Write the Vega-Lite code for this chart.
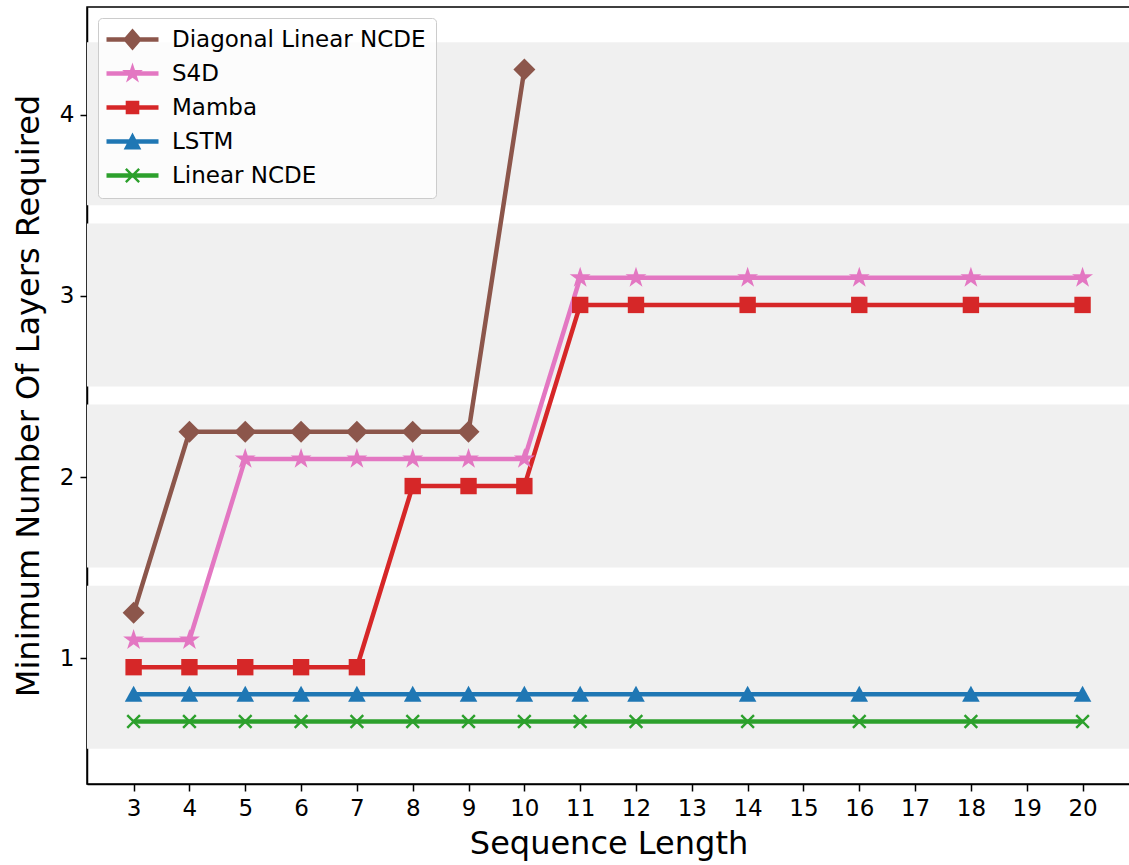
{
  "$schema": "https://vega.github.io/schema/vega-lite/v6.json",
  "width": 1043,
  "height": 777,
  "autosize": {"type": "none"},
  "padding": {"left": 87, "top": 7, "right": 0, "bottom": 81},
  "background": "white",
  "config": {
    "font": "DejaVu Sans",
    "view": {"stroke": "black", "strokeWidth": 1.5},
    "axis": {
      "grid": false,
      "domainColor": "black",
      "domainWidth": 1.5,
      "tickColor": "black",
      "tickWidth": 1.5,
      "tickSize": 7,
      "labelFont": "DejaVu Sans",
      "labelFontSize": 23,
      "labelColor": "black",
      "titleFont": "DejaVu Sans",
      "titleFontSize": 32,
      "titleFontWeight": "normal",
      "titleColor": "black",
      "zindex": 1
    },
    "point": {"filled": true, "opacity": 1, "size": 400, "strokeWidth": 0}
  },
  "datasets": {
    "bands": [
      {"lo": 0.5, "hi": 1.4},
      {"lo": 1.5, "hi": 2.4},
      {"lo": 2.5, "hi": 3.4},
      {"lo": 3.5, "hi": 4.4}
    ],
    "layers": [
      {"model": "Diagonal Linear NCDE", "len": 3, "layers": 1.25},
      {"model": "Diagonal Linear NCDE", "len": 4, "layers": 2.25},
      {"model": "Diagonal Linear NCDE", "len": 5, "layers": 2.25},
      {"model": "Diagonal Linear NCDE", "len": 6, "layers": 2.25},
      {"model": "Diagonal Linear NCDE", "len": 7, "layers": 2.25},
      {"model": "Diagonal Linear NCDE", "len": 8, "layers": 2.25},
      {"model": "Diagonal Linear NCDE", "len": 9, "layers": 2.25},
      {"model": "Diagonal Linear NCDE", "len": 10, "layers": 4.25},

      {"model": "S4D", "len": 3, "layers": 1.1},
      {"model": "S4D", "len": 4, "layers": 1.1},
      {"model": "S4D", "len": 5, "layers": 2.1},
      {"model": "S4D", "len": 6, "layers": 2.1},
      {"model": "S4D", "len": 7, "layers": 2.1},
      {"model": "S4D", "len": 8, "layers": 2.1},
      {"model": "S4D", "len": 9, "layers": 2.1},
      {"model": "S4D", "len": 10, "layers": 2.1},
      {"model": "S4D", "len": 11, "layers": 3.1},
      {"model": "S4D", "len": 12, "layers": 3.1},
      {"model": "S4D", "len": 14, "layers": 3.1},
      {"model": "S4D", "len": 16, "layers": 3.1},
      {"model": "S4D", "len": 18, "layers": 3.1},
      {"model": "S4D", "len": 20, "layers": 3.1},

      {"model": "Mamba", "len": 3, "layers": 0.95},
      {"model": "Mamba", "len": 4, "layers": 0.95},
      {"model": "Mamba", "len": 5, "layers": 0.95},
      {"model": "Mamba", "len": 6, "layers": 0.95},
      {"model": "Mamba", "len": 7, "layers": 0.95},
      {"model": "Mamba", "len": 8, "layers": 1.95},
      {"model": "Mamba", "len": 9, "layers": 1.95},
      {"model": "Mamba", "len": 10, "layers": 1.95},
      {"model": "Mamba", "len": 11, "layers": 2.95},
      {"model": "Mamba", "len": 12, "layers": 2.95},
      {"model": "Mamba", "len": 14, "layers": 2.95},
      {"model": "Mamba", "len": 16, "layers": 2.95},
      {"model": "Mamba", "len": 18, "layers": 2.95},
      {"model": "Mamba", "len": 20, "layers": 2.95},

      {"model": "LSTM", "len": 3, "layers": 0.8},
      {"model": "LSTM", "len": 4, "layers": 0.8},
      {"model": "LSTM", "len": 5, "layers": 0.8},
      {"model": "LSTM", "len": 6, "layers": 0.8},
      {"model": "LSTM", "len": 7, "layers": 0.8},
      {"model": "LSTM", "len": 8, "layers": 0.8},
      {"model": "LSTM", "len": 9, "layers": 0.8},
      {"model": "LSTM", "len": 10, "layers": 0.8},
      {"model": "LSTM", "len": 11, "layers": 0.8},
      {"model": "LSTM", "len": 12, "layers": 0.8},
      {"model": "LSTM", "len": 14, "layers": 0.8},
      {"model": "LSTM", "len": 16, "layers": 0.8},
      {"model": "LSTM", "len": 18, "layers": 0.8},
      {"model": "LSTM", "len": 20, "layers": 0.8},

      {"model": "Linear NCDE", "len": 3, "layers": 0.65},
      {"model": "Linear NCDE", "len": 4, "layers": 0.65},
      {"model": "Linear NCDE", "len": 5, "layers": 0.65},
      {"model": "Linear NCDE", "len": 6, "layers": 0.65},
      {"model": "Linear NCDE", "len": 7, "layers": 0.65},
      {"model": "Linear NCDE", "len": 8, "layers": 0.65},
      {"model": "Linear NCDE", "len": 9, "layers": 0.65},
      {"model": "Linear NCDE", "len": 10, "layers": 0.65},
      {"model": "Linear NCDE", "len": 11, "layers": 0.65},
      {"model": "Linear NCDE", "len": 12, "layers": 0.65},
      {"model": "Linear NCDE", "len": 14, "layers": 0.65},
      {"model": "Linear NCDE", "len": 16, "layers": 0.65},
      {"model": "Linear NCDE", "len": 18, "layers": 0.65},
      {"model": "Linear NCDE", "len": 20, "layers": 0.65}
    ]
  },
  "layer": [
    {
      "data": {"name": "bands"},
      "mark": {"type": "rect", "color": "#f0f0f0"},
      "encoding": {
        "y": {
          "field": "lo",
          "type": "quantitative",
          "title": "Minimum Number Of Layers Required",
          "scale": {"domain": [0.305, 4.595], "nice": false, "zero": false},
          "axis": {"values": [1, 2, 3, 4], "format": "d", "labelPadding": 6, "titlePadding": 14}
        },
        "y2": {"field": "hi"}
      }
    },
    {
      "data": {"name": "layers"},
      "encoding": {
        "x": {
          "field": "len",
          "type": "quantitative",
          "title": "Sequence Length",
          "scale": {"domain": [2.165, 20.85], "nice": false, "zero": false},
          "axis": {
            "values": [3, 4, 5, 6, 7, 8, 9, 10, 11, 12, 13, 14, 15, 16, 17, 18, 19, 20],
            "format": "d",
            "labelPadding": 6,
            "titlePadding": 8
          }
        },
        "y": {
          "field": "layers",
          "type": "quantitative",
          "title": "Minimum Number Of Layers Required",
          "scale": {"domain": [0.305, 4.595], "nice": false, "zero": false},
          "axis": {"values": [1, 2, 3, 4], "format": "d", "labelPadding": 6, "titlePadding": 14}
        },
        "color": {
          "field": "model",
          "type": "nominal",
          "scale": {
            "domain": ["Diagonal Linear NCDE", "S4D", "Mamba", "LSTM", "Linear NCDE"],
            "range": ["#8c564b", "#e377c2", "#d62728", "#1f77b4", "#2ca02c"]
          },
          "legend": {
            "title": null,
            "orient": "top-left",
            "offset": 11,
            "padding": 10,
            "rowPadding": 10,
            "symbolOffset": 13,
            "labelOffset": 28,
            "labelLimit": 400,
            "symbolSize": 400,
            "symbolStrokeWidth": 0,
            "symbolOpacity": 1,
            "labelFont": "DejaVu Sans",
            "labelFontSize": 23,
            "labelColor": "black",
            "fillColor": "rgba(255,255,255,0.8)",
            "strokeColor": "#cccccc",
            "cornerRadius": 4,
            "encode": {
              "symbols": {
                "update": {
                  "shape": {"signal": "'M-2.6,-0.22L2.6,-0.22L2.6,0.22L-2.6,0.22Z' + (datum.value === 'Diagonal Linear NCDE' ? 'M0,-1.1L0.95,0L0,1.1L-0.95,0Z' : datum.value === 'S4D' ? 'M0,-1.1L0.247,-0.34L1.046,-0.34L0.399,0.13L0.647,0.89L0,0.42L-0.647,0.89L-0.399,0.13L-1.046,-0.34L-0.247,-0.34Z' : datum.value === 'Mamba' ? 'M-0.68,-0.68L0.68,-0.68L0.68,0.68L-0.68,0.68Z' : datum.value === 'LSTM' ? 'M0,-0.9L0.88,0.8L-0.88,0.8Z' : 'M-0.75,-0.58L-0.58,-0.75L0,-0.17L0.58,-0.75L0.75,-0.58L0.17,0L0.75,0.58L0.58,0.75L0,0.17L-0.58,0.75L-0.75,0.58L-0.17,0Z')"},
                  "size": {"value": 400},
                  "strokeWidth": {"value": 0},
                  "opacity": {"value": 1}
                }
              }
            }
          }
        }
      },
      "layer": [
        {
          "mark": {"type": "line", "strokeWidth": 4.5},
          "encoding": {"detail": {"field": "model"}}
        },
        {
          "transform": [{"filter": {"field": "model", "equal": "Linear NCDE"}}],
          "mark": {"type": "point", "shape": "M-0.72,-0.55L-0.55,-0.72L0,-0.17L0.55,-0.72L0.72,-0.55L0.17,0L0.72,0.55L0.55,0.72L0,0.17L-0.55,0.72L-0.72,0.55L-0.17,0Z"}
        },
        {
          "transform": [{"filter": {"field": "model", "equal": "LSTM"}}],
          "mark": {"type": "point", "shape": "M0,-0.85L0.88,0.75L-0.88,0.75Z"}
        },
        {
          "transform": [{"filter": {"field": "model", "equal": "Mamba"}}],
          "mark": {"type": "point", "shape": "M-0.82,-0.82L0.82,-0.82L0.82,0.82L-0.82,0.82Z"}
        },
        {
          "transform": [{"filter": {"field": "model", "equal": "S4D"}}],
          "mark": {"type": "point", "shape": "M0,-1.1L0.247,-0.34L1.046,-0.34L0.399,0.13L0.647,0.89L0,0.42L-0.647,0.89L-0.399,0.13L-1.046,-0.34L-0.247,-0.34Z"}
        },
        {
          "transform": [{"filter": {"field": "model", "equal": "Diagonal Linear NCDE"}}],
          "mark": {"type": "point", "shape": "M0,-1.1L1.1,0L0,1.1L-1.1,0Z"}
        }
      ]
    }
  ]
}
